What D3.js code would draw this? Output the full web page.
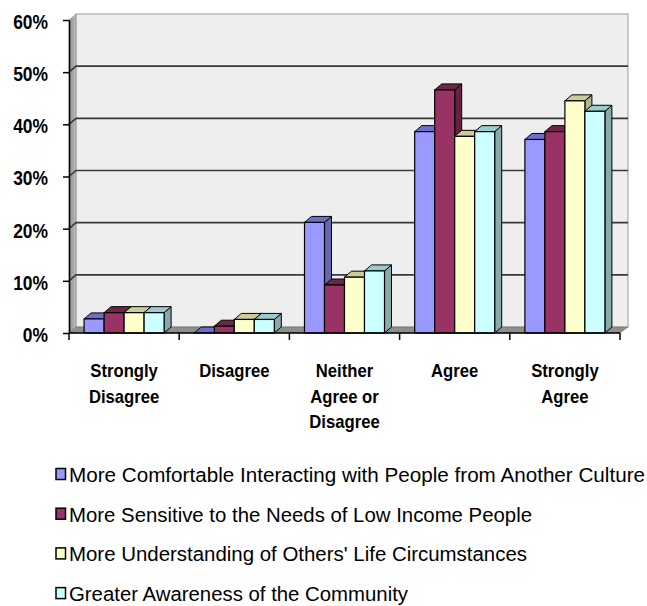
<!DOCTYPE html>
<html>
<head>
<meta charset="utf-8">
<script src="https://cdn.jsdelivr.net/npm/d3@7"></script>
<style>
  html, body { margin: 0; padding: 0; background: #ffffff; }
  svg { display: block; }
</style>
</head>
<body>
<svg id="chart" width="647" height="606"></svg>
<script>
const categories = [
  ["Strongly", "Disagree"],
  ["Disagree"],
  ["Neither", "Agree or", "Disagree"],
  ["Agree"],
  ["Strongly", "Agree"]
];
const categoryKeys = ["Strongly Disagree", "Disagree", "Neither Agree or Disagree", "Agree", "Strongly Agree"];
const series = [
  "More Comfortable Interacting with People from Another Culture",
  "More Sensitive to the Needs of Low Income People",
  "More Understanding of Others' Life Circumstances",
  "Greater Awareness of the Community"
];
// values in percent, per series, in category order
const comfortable = [2.7, 0.0, 21.2, 38.6, 37.1];
const sensitive   = [3.9, 1.3, 9.2, 46.6, 38.6];
const understanding = [3.9, 2.6, 10.7, 37.7, 44.5];
const awareness   = [3.9, 2.6, 11.9, 38.6, 42.5];
const yTickValues = [0, 10, 20, 30, 40, 50, 60];
const yTickLabels = ["0%", "10%", "20%", "30%", "40%", "50%", "60%"];
const legendWidths = [576, 463, 458, 339];

const valuesBySeries = [comfortable, sensitive, understanding, awareness];
const frontColors = ["#9999FF", "#993366", "#FFFFCC", "#CCFFFF"];
const topColors   = ["#6E6ECC", "#6E2548", "#CCCC99", "#99CCCC"];
const sideColors  = ["#6666B3", "#66223F", "#B3B38F", "#88AAAA"];

const svg = d3.select("#chart");
const pLeft = 69, pRight = 620, pTop = 20, pBottom = 333;
const dx = 7, dy = 6;

const x = d3.scaleBand().domain(categoryKeys).range([pLeft, pRight]).paddingInner(0).paddingOuter(0);
const xs = d3.scaleBand().domain(d3.range(series.length)).range([0, x.bandwidth()]).paddingInner(0).paddingOuter(0.755);
const y = d3.scaleLinear().domain([0, 60]).range([pBottom, pTop]);

// back wall
svg.append("rect")
  .attr("x", pLeft + dx).attr("y", pTop - dy)
  .attr("width", pRight - pLeft + 1).attr("height", pBottom - pTop)
  .attr("fill", "#EEEEEE").attr("stroke", "#9A9A9A").attr("stroke-width", 1);

// left wall
const lg = svg.append("defs").append("linearGradient").attr("id", "lw")
  .attr("x1", 0).attr("x2", 1).attr("y1", 0).attr("y2", 0);
lg.append("stop").attr("offset", 0).attr("stop-color", "#8C8C8C");
lg.append("stop").attr("offset", 1).attr("stop-color", "#BDBDBD");
svg.append("polygon")
  .attr("points", [[pLeft, pBottom], [pLeft, pTop], [pLeft + dx, pTop - dy], [pLeft + dx, pBottom - dy]].join(" "))
  .attr("fill", "url(#lw)").attr("stroke", "#888").attr("stroke-width", 0.5);

// floor
svg.append("polygon")
  .attr("points", [[pLeft, pBottom], [pLeft + dx, pBottom - dy], [pRight + dx + 1, pBottom - dy], [pRight, pBottom]].join(" "))
  .attr("fill", "#8E8E8E").attr("stroke", "#666").attr("stroke-width", 0.5);

// gridlines (on left wall and back wall)
svg.append("g").selectAll("path")
  .data(yTickValues.filter(d => d > 0 && d < 60))
  .join("path")
  .attr("d", d => `M${pLeft},${y(d)} L${pLeft + dx},${y(d) - dy} L${pRight + dx + 1},${y(d) - dy}`)
  .attr("fill", "none").attr("stroke", "#3A3A3A").attr("stroke-width", 1.6);

// bars
const barsG = svg.append("g");
categoryKeys.forEach((c, ci) => {
  valuesBySeries.forEach((vals, si) => {
    const v = vals[ci];
    const x0 = x(c) + xs(si);
    const w = xs.bandwidth();
    const yt = y(v);
    const g = barsG.append("g");
    g.append("polygon")
      .attr("points", [[x0 + w, pBottom], [x0 + w, yt], [x0 + w + dx, yt - dy], [x0 + w + dx, pBottom - dy]].join(" "))
      .attr("fill", sideColors[si]).attr("stroke", "#000").attr("stroke-width", 1).attr("stroke-linejoin", "round");
    g.append("polygon")
      .attr("points", [[x0, yt], [x0 + dx, yt - dy], [x0 + w + dx, yt - dy], [x0 + w, yt]].join(" "))
      .attr("fill", topColors[si]).attr("stroke", "#000").attr("stroke-width", 1).attr("stroke-linejoin", "round");
    if (v > 0) {
      g.append("rect")
        .attr("x", x0).attr("y", yt).attr("width", w).attr("height", pBottom - yt)
        .attr("fill", frontColors[si]).attr("stroke", "#000").attr("stroke-width", 1.2);
    }
  });
});

// y axis
const yAxis = svg.append("g").attr("transform", `translate(${pLeft},0)`)
  .call(d3.axisLeft(y).tickValues(yTickValues).tickSize(6).tickSizeOuter(0)
    .tickFormat((d, i) => yTickLabels[i]));
yAxis.select(".domain").attr("stroke", "#000").attr("stroke-width", 1.5);
yAxis.selectAll(".tick line").attr("stroke", "#000").attr("stroke-width", 1.5);
yAxis.selectAll(".tick text")
  .attr("font-family", "'Liberation Sans', Arial, sans-serif")
  .attr("font-weight", "bold")
  .attr("font-size", 21)
  .attr("fill", "#000")
  .attr("x", -21 / 0.83)
  .attr("dy", "0.4em")
  .attr("transform", "scale(0.83,1)");

// x axis
const xAxis = svg.append("g").attr("transform", `translate(0,${pBottom})`);
xAxis.append("line").attr("x1", pLeft).attr("x2", pRight).attr("y1", 0).attr("y2", 0)
  .attr("stroke", "#000").attr("stroke-width", 1.5);
const bounds = categoryKeys.map(c => x(c)).concat([pRight]);
xAxis.selectAll("line.tk").data(bounds).join("line").attr("class", "tk")
  .attr("x1", d => d).attr("x2", d => d).attr("y1", 0).attr("y2", 7)
  .attr("stroke", "#000").attr("stroke-width", 1.5);

// category labels
const catG = svg.append("g")
  .attr("font-family", "'Liberation Sans', Arial, sans-serif")
  .attr("font-weight", "bold").attr("font-size", 18.5).attr("text-anchor", "middle");
categoryKeys.forEach((c, ci) => {
  categories[ci].forEach((line, li) => {
    const t = catG.append("text")
      .attr("x", x(c) + x.bandwidth() / 2)
      .attr("y", 377 + li * 25.5)
      .text(line);
    const len = t.node().getComputedTextLength();
    t.attr("textLength", len * 0.9).attr("lengthAdjust", "spacingAndGlyphs");
  });
});

// legend
const legG = svg.append("g").attr("font-family", "'Liberation Sans', Arial, sans-serif").attr("font-size", 20);
series.forEach((s, i) => {
  const by = 482 + i * 39.7;
  legG.append("rect").attr("x", 56).attr("y", by - 13.5).attr("width", 9.5).attr("height", 11)
    .attr("fill", frontColors[i]).attr("stroke", "#000").attr("stroke-width", 1.5);
  legG.append("text").attr("x", 69).attr("y", by)
    .attr("textLength", legendWidths[i]).attr("lengthAdjust", "spacingAndGlyphs")
    .text(s);
});
</script>
</body>
</html>
